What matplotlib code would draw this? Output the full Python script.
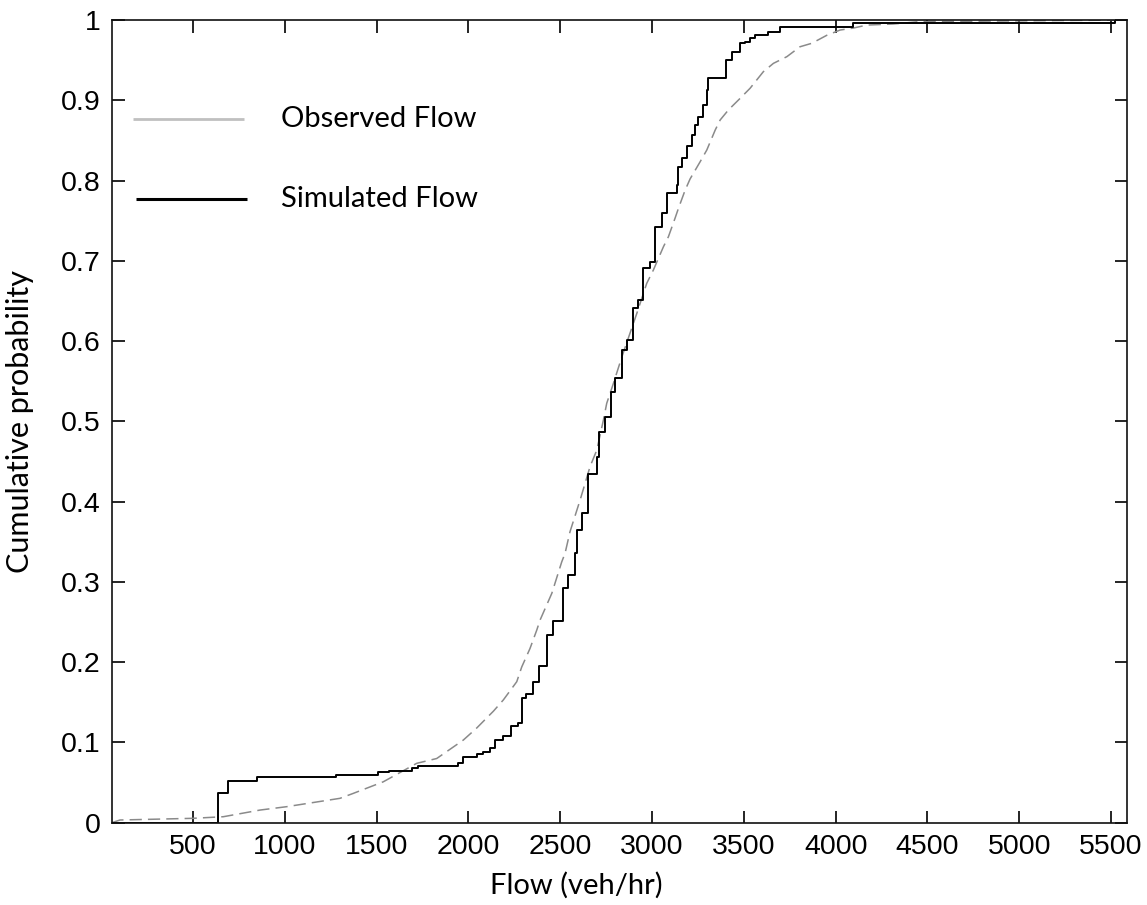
import matplotlib
matplotlib.use("Agg")
import matplotlib.pyplot as plt

# ---------------------- Data ----------------------
# Simulated flow: empirical CDF step points (flow in veh/hr, cumulative probability)
sim_flow = [57, 638, 692, 847, 1279, 1509, 1569, 1691, 1727, 1945, 1972, 2045,
            2081, 2118, 2145, 2190, 2230, 2272, 2290, 2313, 2352, 2384, 2426,
            2461, 2516, 2544, 2580, 2590, 2617, 2650, 2699, 2713, 2744, 2777,
            2799, 2835, 2862, 2895, 2925, 2953, 2989, 3016, 3054, 3080, 3134,
            3143, 3162, 3189, 3216, 3234, 3252, 3279, 3298, 3307, 3403, 3434,
            3479, 3507, 3534, 3561, 3633, 3697, 4095, 5522, 5585]
sim_prob = [0.0, 0.037, 0.052, 0.0566, 0.0594, 0.0628, 0.0648, 0.0678, 0.071,
            0.074, 0.0815, 0.0856, 0.0885, 0.0927, 0.103, 0.108, 0.1205, 0.124,
            0.155, 0.16, 0.1757, 0.195, 0.234, 0.2517, 0.292, 0.3086, 0.336,
            0.3647, 0.3855, 0.435, 0.456, 0.487, 0.506, 0.537, 0.5536, 0.589,
            0.601, 0.641, 0.651, 0.6907, 0.699, 0.7425, 0.759, 0.784, 0.794,
            0.817, 0.8277, 0.8425, 0.8567, 0.869, 0.8795, 0.894, 0.9128, 0.9274,
            0.950, 0.9605, 0.971, 0.973, 0.977, 0.981, 0.985, 0.991, 0.9967,
            1.0, 1.0]

# Observed flow: dense empirical CDF, sampled along the curve
obs_flow = [57, 102, 500, 665, 865, 1010, 1300, 1373, 1536, 1718, 1827, 1972,
            2045, 2136, 2190, 2263, 2290, 2335, 2372, 2390, 2454, 2508, 2526,
            2553, 2608, 2662, 2699, 2735, 2753, 2789, 2835, 2917, 2971, 3007,
            3062, 3089, 3125, 3143, 3180, 3207, 3262, 3298, 3344, 3371, 3416,
            3480, 3534, 3606, 3661, 3734, 3806, 3870, 3952, 4024, 4097, 4170,
            4313, 4460, 5585]
obs_prob = [0.0, 0.0034, 0.0055, 0.0075, 0.0158, 0.020, 0.0304, 0.0366, 0.051,
            0.074, 0.080, 0.103, 0.118, 0.139, 0.153, 0.1757, 0.194, 0.217,
            0.24, 0.2525, 0.2858, 0.325, 0.3356, 0.3625, 0.402, 0.4435, 0.4643,
            0.5017, 0.5225, 0.547, 0.58, 0.6346, 0.672, 0.6885, 0.7176, 0.73,
            0.753, 0.765, 0.788, 0.802, 0.8235, 0.838, 0.863, 0.8755, 0.888,
            0.9025, 0.915, 0.9356, 0.946, 0.9543, 0.9667, 0.971, 0.981, 0.9875,
            0.990, 0.9937, 0.995, 0.998, 1.0]

x_ticks = [500, 1000, 1500, 2000, 2500, 3000, 3500, 4000, 4500, 5000, 5500]
y_ticks = [0, 0.1, 0.2, 0.3, 0.4, 0.5, 0.6, 0.7, 0.8, 0.9, 1]
y_tick_labels = ["0", "0.1", "0.2", "0.3", "0.4", "0.5", "0.6", "0.7", "0.8", "0.9", "1"]

# ---------------------- Figure ----------------------
fig = plt.figure(figsize=(11.47, 9.05), dpi=100)
ax = fig.add_axes([0.0974, 0.0909, 0.8849, 0.8870])

ax.plot(obs_flow, obs_prob, color="#8a8a8a", lw=1.1, dashes=(8, 4))
ax.step(sim_flow, sim_prob, where="post", color="black", lw=1.4)

ax.set_xlim(57, 5585)
ax.set_ylim(0, 1)
ax.set_xticks(x_ticks)
ax.set_xticklabels([str(t) for t in x_ticks], family="Liberation Sans", fontsize=20.5)
ax.set_yticks(y_ticks)
ax.set_yticklabels(y_tick_labels, family="Liberation Sans", fontsize=20.5)
ax.tick_params(direction="in", length=9, width=1.2, top=True, right=True, pad=8)
for s in ax.spines.values():
    s.set_linewidth(1.2)
    s.set_color("#111111")

ax.set_xlabel("Flow (veh/hr)", family="Lato", fontsize=21)
ax.xaxis.set_label_coords(0.4574, -0.0614)
ax.set_ylabel("Cumulative probability", family="Lato", fontsize=22)
ax.yaxis.set_label_coords(-0.077, 0.5)

# ---------------------- Legend (no frame) ----------------------
ax.plot([0.0207, 0.1304], [0.8766, 0.8766], transform=ax.transAxes,
        color="#c0c0c0", lw=2.0, solid_capstyle="butt")
ax.plot([0.0240, 0.1335], [0.7770, 0.7770], transform=ax.transAxes,
        color="black", lw=2.2, solid_capstyle="butt")
ax.text(0.1667, 0.8766, "Observed Flow", transform=ax.transAxes,
        family="Lato", fontsize=21, va="center", ha="left")
ax.text(0.1667, 0.7770, "Simulated Flow", transform=ax.transAxes,
        family="Lato", fontsize=21, va="center", ha="left")

fig.savefig("out.png", dpi=100)
